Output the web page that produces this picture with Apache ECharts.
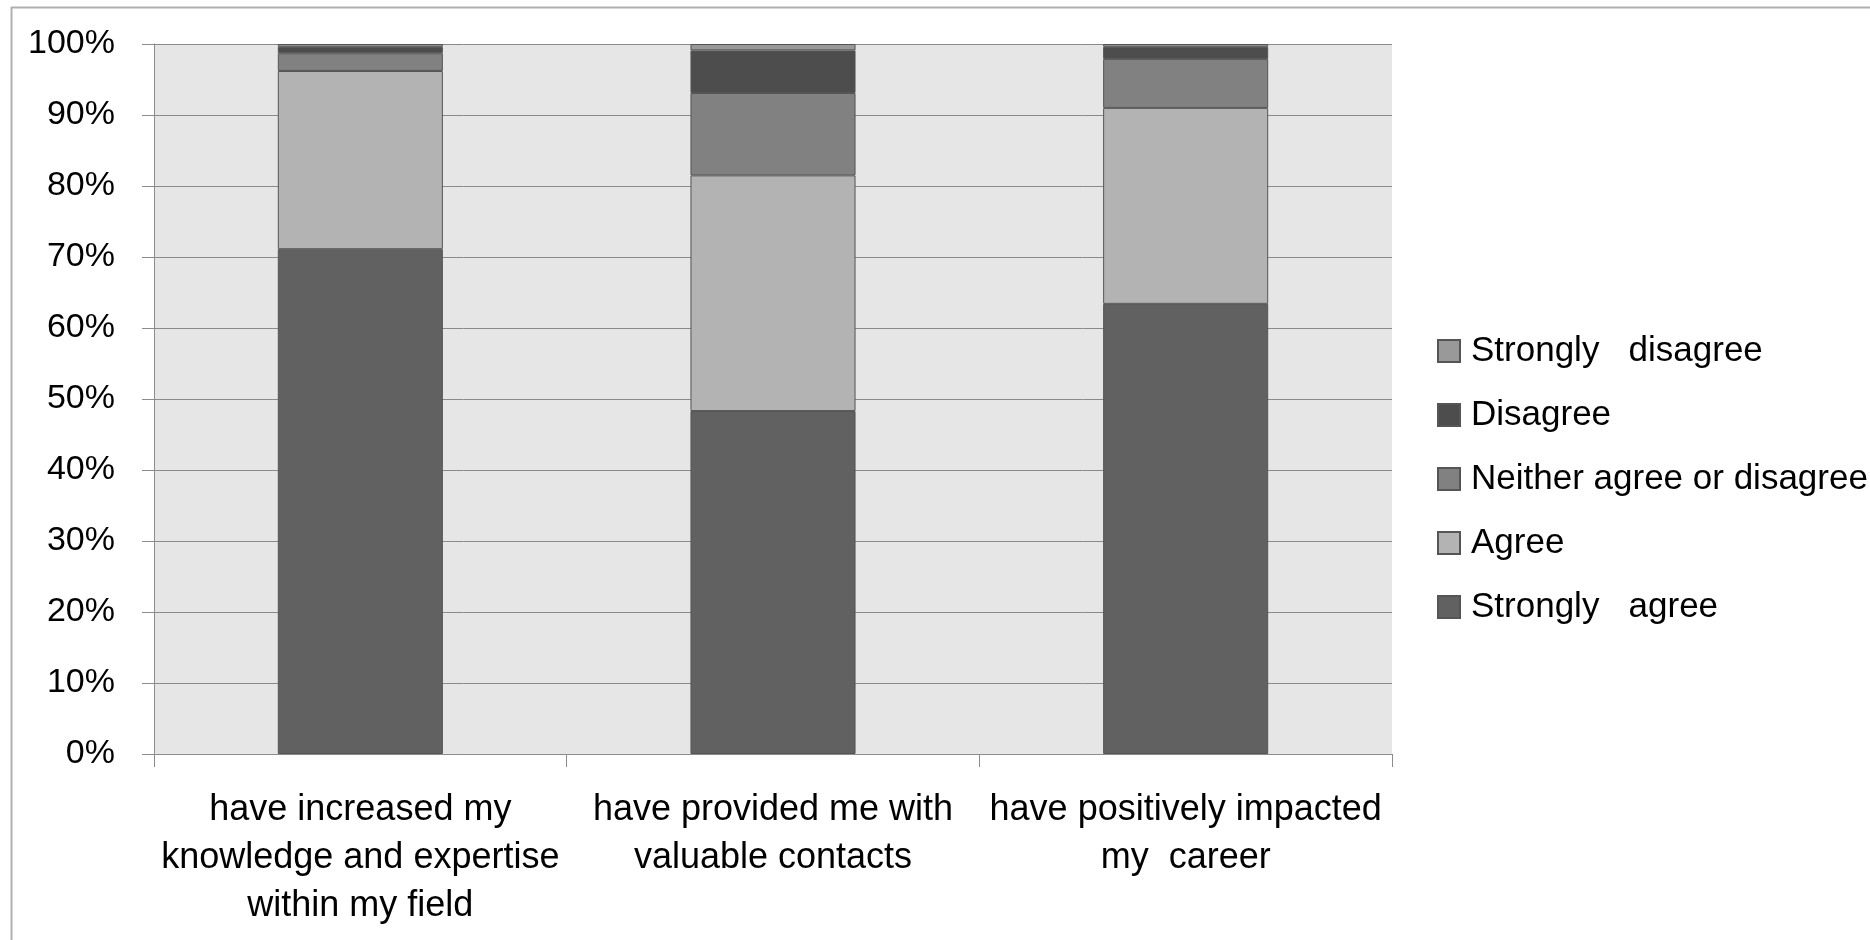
<!DOCTYPE html>
<html>
<head>
<meta charset="utf-8">
<script src="https://cdn.jsdelivr.net/npm/echarts@6/dist/echarts.min.js"></script>
<style>
html,body{margin:0;padding:0;background:#fff;}
#c{width:1870px;height:940px;}
</style>
</head>
<body>
<div id="c"></div>
<script>
var categories = [
  'have increased my\nknowledge and expertise\nwithin my field',
  'have provided me with\nvaluable contacts',
  'have positively impacted\nmy  career'
];
var stronglyAgree = [71.1, 48.3, 63.4];
var agree = [25.1, 33.2, 27.6];
var neither = [2.5, 11.6, 6.9];
var disagree = [0.9, 6.0, 1.7];
var stronglyDisagree = [0.4, 0.9, 0.4];
var yTicks = [0, 10, 20, 30, 40, 50, 60, 70, 80, 90, 100];

var FONT = "'Liberation Sans Narrow', 'Arial Narrow', 'Liberation Sans', Arial, sans-serif";

function mk(name, data, color) {
  return {
    name: name, type: 'bar', stack: 'total', data: data,
    barWidth: '40%',
    itemStyle: { color: color, borderColor: '#555555', borderWidth: 1 },
    emphasis: { disabled: true }
  };
}

var chart = echarts.init(document.getElementById('c'));
chart.setOption({
  animation: false,
  backgroundColor: '#ffffff',
  grid: {
    left: 154, top: 44, right: 478, bottom: 186,
    show: true, backgroundColor: '#e6e6e6', borderWidth: 0, containLabel: false
  },
  legend: {
    orient: 'vertical',
    left: 1437, top: 331, padding: 0,
    itemWidth: 22, itemHeight: 22, itemGap: 24,
    icon: 'rect',
    data: ['Strongly   disagree', 'Disagree', 'Neither agree or disagree', 'Agree', 'Strongly   agree'],
    textStyle: { fontFamily: FONT, fontSize: 35, color: '#000', lineHeight: 40, padding: [0, 0, 0, 6] },
    selectedMode: false
  },
  xAxis: {
    type: 'category', data: categories,
    axisLine: { show: true, lineStyle: { color: '#8c8c8c', width: 1 } },
    axisTick: { show: true, length: 13, alignWithLabel: false, lineStyle: { color: '#8c8c8c' } },
    axisLabel: { fontFamily: FONT, fontSize: 36, color: '#000', lineHeight: 48, margin: 32, interval: 0 }
  },
  yAxis: {
    type: 'value', min: 0, max: 100, interval: 10,
    axisLine: { show: true, lineStyle: { color: '#8c8c8c', width: 1 } },
    axisTick: { show: true, length: 12, lineStyle: { color: '#8c8c8c' } },
    splitLine: { show: true, lineStyle: { color: '#8a8a8a', width: 1 } },
    axisLabel: {
      fontFamily: FONT, fontSize: 34, color: '#000', margin: 39, padding: [7, 0, 0, 0],
      formatter: function (v) { return yTicks.indexOf(v) >= 0 ? v + '%' : ''; }
    }
  },
  series: [
    mk('Strongly   agree', stronglyAgree, '#616161'),
    mk('Agree', agree, '#b3b3b3'),
    mk('Neither agree or disagree', neither, '#818181'),
    mk('Disagree', disagree, '#4d4d4d'),
    mk('Strongly   disagree', stronglyDisagree, '#999999')
  ],
  graphic: [
    { type: 'line', shape: { x1: 11, y1: 7.5, x2: 1870, y2: 7.5 }, style: { stroke: '#b0b0b0', lineWidth: 2 }, silent: true },
    { type: 'line', shape: { x1: 11.5, y1: 7, x2: 11.5, y2: 940 }, style: { stroke: '#b0b0b0', lineWidth: 2 }, silent: true }
  ]
});
</script>
</body>
</html>
